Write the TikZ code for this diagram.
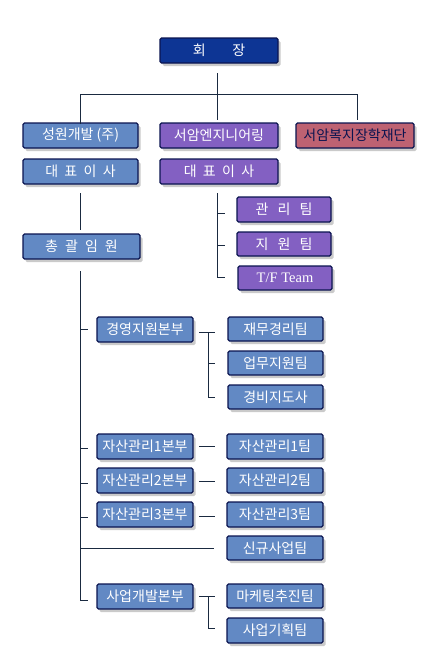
\documentclass[tikz,border=0pt]{standalone}
\usepackage{fontspec}
\newfontfamily\kr{Noto Sans CJK KR}
\newfontfamily\lat{Liberation Serif}
\usetikzlibrary{shadows}
\definecolor{navyfill}{HTML}{0D3594}
\definecolor{edgec}{HTML}{0A1450}
\definecolor{steel}{HTML}{6289C4}
\definecolor{purp}{HTML}{8360C2}
\definecolor{rose}{HTML}{BE6272}
\definecolor{linec}{HTML}{1A2A40}
\tikzset{
  box/.style={draw=edgec, line width=1.3pt, rounded corners=1.5pt, text=white,
    font=\kr\fontsize{14}{16}\selectfont, inner sep=0pt,
    drop shadow={shadow xshift=2.5pt, shadow yshift=-3pt, opacity=0.35, fill=black!60}},
  conn/.style={draw=linec, line width=0.8pt},
}
\newcommand{\gapem}[1]{\hspace{#1em}}
\begin{document}
\begin{tikzpicture}[x=1pt,y=-1pt]
\useasboundingbox (0,0) rectangle (435,653);
% top
\node[box, fill=navyfill, minimum width=118pt, minimum height=25pt] (ceo) at (219,50.5) {회\gapem{1.9}장};
% companies
\node[box, fill=steel, minimum width=115pt, minimum height=25pt] (sw) at (80.5,135.5) {성원개발 (주)};
\node[box, fill=purp, minimum width=118pt, minimum height=25pt] (se) at (219,135.5) {서암엔지니어링};
\node[box, fill=rose, text=edgec, minimum width=118pt, minimum height=25pt] (sf) at (355,135.5) {서암복지장학재단};
\node[box, fill=steel, minimum width=115pt, minimum height=25pt] (swr) at (80.5,171.5) {대\gapem{0.45}표\gapem{0.45}이\gapem{0.45}사};
\node[box, fill=purp, minimum width=118pt, minimum height=25pt] (ser) at (219,171.5) {대\gapem{0.45}표\gapem{0.45}이\gapem{0.45}사};
% purple teams
\node[box, fill=purp, minimum width=94pt, minimum height=25pt] (t1) at (284,209.5) {관\gapem{0.65}리\gapem{0.65}팀};
\node[box, fill=purp, minimum width=94pt, minimum height=24pt] (t2) at (284,244) {지\gapem{0.65}원\gapem{0.65}팀};
\node[box, fill=purp, minimum width=94pt, minimum height=24pt, font=\lat\fontsize{14.5}{16}\selectfont] (t3) at (285,278) {T/F Team};
% 총괄임원
\node[box, fill=steel, minimum width=117pt, minimum height=25pt] (gm) at (81.5,246.5) {총\gapem{0.5}괄\gapem{0.5}임\gapem{0.5}원};
% divisions
\node[box, fill=steel, minimum width=96pt, minimum height=25pt] (d1) at (145,329.5) {경영지원본부};
\node[box, fill=steel, minimum width=95pt, minimum height=24pt] (d1a) at (275.5,329) {재무경리팀};
\node[box, fill=steel, minimum width=95pt, minimum height=24pt] (d1b) at (275.5,363) {업무지원팀};
\node[box, fill=steel, minimum width=95pt, minimum height=24pt] (d1c) at (275.5,397) {경비지도사};
\node[box, fill=steel, minimum width=96pt, minimum height=25pt] (d2) at (145,446.5) {자산관리1본부};
\node[box, fill=steel, minimum width=96pt, minimum height=25pt] (d2a) at (275,446.5) {자산관리1팀};
\node[box, fill=steel, minimum width=96pt, minimum height=25pt] (d3) at (145,480.5) {자산관리2본부};
\node[box, fill=steel, minimum width=96pt, minimum height=25pt] (d3a) at (275,480.5) {자산관리2팀};
\node[box, fill=steel, minimum width=96pt, minimum height=25pt] (d4) at (145,514.5) {자산관리3본부};
\node[box, fill=steel, minimum width=96pt, minimum height=25pt] (d4a) at (275,514.5) {자산관리3팀};
\node[box, fill=steel, minimum width=96pt, minimum height=24pt] (nb) at (275,548) {신규사업팀};
\node[box, fill=steel, minimum width=96pt, minimum height=25pt] (d5) at (145,596.5) {사업개발본부};
\node[box, fill=steel, minimum width=96pt, minimum height=24pt] (d5a) at (275,596) {마케팅추진팀};
\node[box, fill=steel, minimum width=96pt, minimum height=25pt] (d5b) at (275,630.5) {사업기획팀};
% coordinates
\coordinate (hL) at (80,94);
\coordinate (hR) at (357,94);
% top connectors
\draw[conn] (217,73) -- (217,120);
\draw[conn] (80,124) -- (hL) -- (hR) -- (357,120);
% 성원 branch
\draw[conn] (80,193) -- (80,230);
\draw[conn] (80,271) -- (80,600) -- (88,600);
% 서암 branch
\draw[conn] (217,193) -- (217,277) -- (225,277);
\draw[conn] (217,213) -- (225,213);
\draw[conn] (217,245) -- (225,245);
% ticks to divisions
\draw[conn] (80,329) -- (88,329);
\draw[conn] (80,448) -- (88,448);
\draw[conn] (80,483) -- (88,483);
\draw[conn] (80,517) -- (88,517);
\draw[conn] (80,548) -- (214,548);
% 경영지원 sub
\draw[conn] (199,332) -- (215,332);
\draw[conn] (208,332) -- (208,397) -- (215,397);
\draw[conn] (208,363) -- (215,363);
% 자산관리
\draw[conn] (199,446) -- (215,446);
\draw[conn] (199,481) -- (215,481);
\draw[conn] (199,516) -- (215,516);
% 사업개발 sub
\draw[conn] (199,596) -- (215,596);
\draw[conn] (208,596) -- (208,628) -- (215,628);
\end{tikzpicture}
\end{document}
